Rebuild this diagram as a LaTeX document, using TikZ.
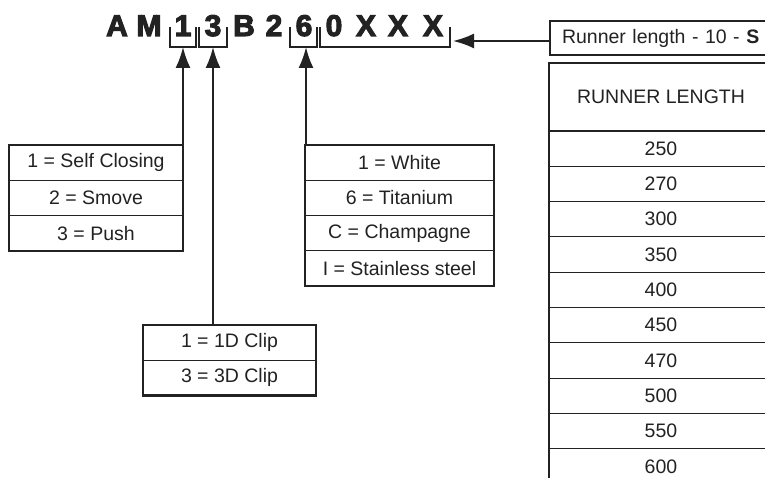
\documentclass[tikz,border=0pt]{standalone}
\usepackage{fontspec}
\setmainfont{Liberation Sans}
\newfontfamily\codefont[FakeBold=3.5]{Liberation Sans Bold}
\usetikzlibrary{arrows.meta,positioning}
\definecolor{ink}{HTML}{222222}

\begin{document}
\begin{tikzpicture}[x=1pt, y=-1pt,
    cell/.style={draw=ink, line width=1.1pt, outer sep=0pt, inner sep=0pt,
                 minimum width=#1, minimum height=35.3pt, text=ink,
                 font=\fontsize{19.5}{22}\selectfont},
    frame/.style={draw=ink, line width=2.4pt},
    chr/.style={anchor=base, inner sep=0pt, text=ink,
                font=\codefont\fontsize{30}{30}\selectfont},
    brk/.style={draw=ink, line width=1.3pt},
    arr/.style={-{Latex[length=21pt,width=15pt]}, draw=ink, line width=2pt}
]
\useasboundingbox (0,0) rectangle (765,478);

% order code
\node[chr] (cA)  at (117,36) {A};
\node[chr] (cM)  at (149,36) {M};
\node[chr] (c1)  at (183,36) {1};
\node[chr] (c3)  at (213,36) {3};
\node[chr] (cB)  at (244,36) {B};
\node[chr] (c2)  at (274,36) {2};
\node[chr] (c6)  at (304,36) {6};
\node[chr] (c0)  at (334,36) {0};
\node[chr] (cX1) at (366,36) {X};
\node[chr] (cX2) at (398,36) {X};
\node[chr] (cX3) at (433,36) {X};

\draw[brk] (170,27) |- (196,47) -- (196,27);
\draw[brk] (199,27) |- (227,47) -- (227,27);
\draw[brk] (290,27) |- (317,47) -- (317,27);
\draw[brk] (320,27) |- (450,47) -- (450,27);

\coordinate (b1) at (183,47);
\coordinate (b3) at (213,47);
\coordinate (b6) at (306,47);
\coordinate (bx) at (453,41);

% closing type
\node[cell=174pt] (sc1) at (96,162.7) {1 = Self Closing};
\node[cell=174pt, below=0pt of sc1] (sc2) {2 = Smove};
\node[cell=174pt, below=0pt of sc2] (sc3) {3 = Push};
\draw[frame] (sc1.north west) rectangle (sc3.south east);

% colour
\node[cell=189pt] (col1) at (399.5,162.5) {1 = White};
\node[cell=189pt, below=0pt of col1] (col2) {6 = Titanium};
\node[cell=189pt, below=0pt of col2] (col3) {C = Champagne};
\node[cell=189pt, below=0pt of col3] (col4) {I = Stainless steel};
\draw[frame] (col1.north west) rectangle (col4.south east);

% clip
\node[cell=173pt] (cl1) at (229.5,342.6) {1 = 1D Clip};
\node[cell=173pt, below=0pt of cl1] (cl2) {3 = 3D Clip};
\draw[frame] (cl1.north west) rectangle (cl2.south east);

% runner length
\node[cell=230pt, anchor=west, minimum height=34pt, text width=206pt,
      inner xsep=12pt, align=left] (run) at (550,38)
      {Runner length - 10 - \textbf{S}};
\draw[frame] (run.south east) -- (run.south west) -- (run.north west) -- (run.north east);

\node[cell=224pt, minimum height=68pt] (hd) at (661,97) {RUNNER LENGTH};
\node[cell=224pt, below=0pt of hd] (r1)  {250};
\node[cell=224pt, below=0pt of r1] (r2)  {270};
\node[cell=224pt, below=0pt of r2] (r3)  {300};
\node[cell=224pt, below=0pt of r3] (r4)  {350};
\node[cell=224pt, below=0pt of r4] (r5)  {400};
\node[cell=224pt, below=0pt of r5] (r6)  {450};
\node[cell=224pt, below=0pt of r6] (r7)  {470};
\node[cell=224pt, below=0pt of r7] (r8)  {500};
\node[cell=224pt, below=0pt of r8] (r9)  {550};
\node[cell=224pt, below=0pt of r9] (r10) {600};
\draw[frame] (hd.north east) -- (hd.north west) -- (r10.south west);

% arrows
\draw[arr] (b1 |- sc1.north) -- (b1);
\draw[arr] (b6 |- col1.north) -- (b6);
\draw[arr] (b3 |- cl1.north) -- (b3);
\draw[arr] (run.west |- bx) -- (bx);
\end{tikzpicture}
\end{document}
